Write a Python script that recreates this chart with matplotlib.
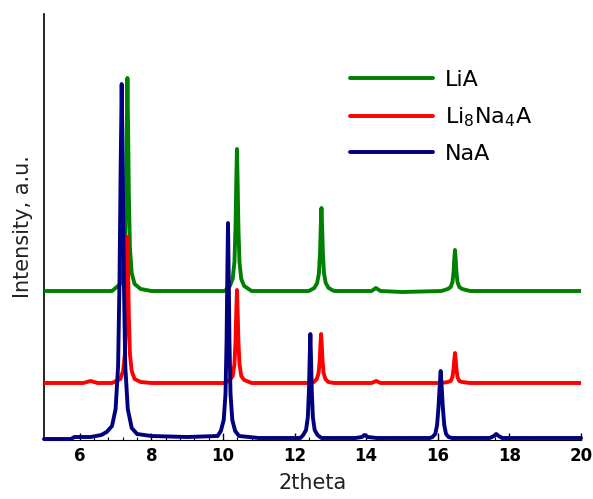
import matplotlib
matplotlib.use("Agg")
import matplotlib.pyplot as plt
from matplotlib.ticker import MultipleLocator, AutoMinorLocator

# XRD patterns (intensity in arbitrary units, stacked)
x_naa = [5.0, 5.75, 5.85, 6.3, 6.6, 6.75, 6.9, 7.0, 7.07, 7.11, 7.14, 7.17, 7.2,
         7.23, 7.27, 7.34, 7.45, 7.6, 8.0, 9.0, 9.85, 9.94, 10.02, 10.07, 10.1,
         10.12, 10.14, 10.16, 10.18, 10.21, 10.26, 10.34, 10.45, 11.0, 12.16,
         12.24, 12.32, 12.37, 12.4, 12.42, 12.44, 12.46, 12.48, 12.51, 12.56,
         12.64, 12.75, 13.7, 13.88, 13.95, 14.05, 14.3, 15.78, 15.85, 15.93, 15.98,
         16.02, 16.05, 16.08, 16.11, 16.14, 16.18, 16.23, 16.3, 16.4, 17.45, 17.57,
         17.63, 17.7, 17.8, 20.0]
y_naa = [1, 1, 3, 3, 5, 8, 14, 31, 74, 162, 268, 356, 268,
         162, 74, 31, 12, 6, 4, 3, 4, 9, 20, 46, 99,
         163, 217, 163, 99, 46, 20, 9, 4, 2, 2,
         5, 10, 23, 49, 80, 106, 80, 49, 23, 10,
         5, 2, 2, 3, 5, 3, 2, 2, 3, 6, 15,
         33, 52, 69, 52, 33, 15, 6, 3, 2, 2, 4,
         6, 4, 2, 2]

x_li8 = [5.0, 6.1, 6.3, 6.5, 6.9, 7.13, 7.21, 7.26, 7.29, 7.31, 7.33, 7.35, 7.37,
         7.4, 7.45, 7.53, 7.7, 8.0, 10.05, 10.19, 10.27, 10.32, 10.35, 10.37, 10.39,
         10.41, 10.43, 10.46, 10.51, 10.59, 10.8, 12.4, 12.54, 12.62, 12.67, 12.7,
         12.72, 12.74, 12.76, 12.78, 12.81, 12.86, 12.94, 13.1, 14.15, 14.28, 14.4,
         16.1, 16.28, 16.36, 16.41, 16.44, 16.46, 16.48, 16.5, 16.52, 16.55, 16.6,
         16.68, 16.9, 20.0]
y_li8 = [57, 57, 59, 57, 57, 61, 69, 86, 123, 167, 203, 167, 123,
         86, 69, 61, 58, 57, 57, 60, 64, 76, 99, 127, 150,
         127, 99, 76, 64, 60, 57, 57, 58, 61, 67, 79,
         94, 106, 94, 79, 67, 61, 58, 57, 57, 59, 57,
         57, 58, 59, 63, 71, 80, 87, 80, 71, 63, 59,
         58, 57, 57]

x_lia = [5.0, 6.9, 7.13, 7.21, 7.26, 7.29, 7.31, 7.33, 7.35, 7.37, 7.4, 7.45, 7.53,
         7.7, 8.0, 10.05, 10.19, 10.27, 10.32, 10.35, 10.37, 10.39, 10.41, 10.43,
         10.46, 10.51, 10.59, 10.8, 12.4, 12.55, 12.63, 12.68, 12.71, 12.73, 12.75,
         12.77, 12.79, 12.82, 12.87, 12.95, 13.1, 14.15, 14.27, 14.4, 15.0, 16.1,
         16.28, 16.36, 16.41, 16.44, 16.46, 16.48, 16.5, 16.52, 16.55, 16.6, 16.68,
         16.9, 20.0]
y_lia = [149, 149, 156, 167, 192, 245, 309, 362, 309, 245, 192, 167, 156,
         151, 149, 149, 154, 161, 178, 213, 256, 291, 256, 213,
         178, 161, 154, 149, 149, 152, 157, 167, 187, 212, 232,
         212, 187, 167, 157, 152, 149, 149, 152, 149, 148, 149,
         151, 153, 158, 168, 181, 190, 181, 168, 158, 153, 151,
         149, 149]

labels = ["LiA", "Li$_8$Na$_4$A", "NaA"]
colors = ["green", "red", "navy"]

fig = plt.figure(figsize=(5.93, 4.99), dpi=100)
ax = fig.add_axes([44 / 593, 59 / 499, 537 / 593, 426 / 499])

style = dict(lw=2.8, solid_joinstyle="round", solid_capstyle="round")
ax.plot(x_lia, y_lia, color=colors[0], label=labels[0], zorder=3, **style)
ax.plot(x_li8, y_li8, color=colors[1], label=labels[1], zorder=3, **style)
ax.plot(x_naa, y_naa, color=colors[2], label=labels[2], zorder=4, clip_on=False, **style)

ax.set_xlim(5, 20)
ax.set_ylim(0, 426)
ax.xaxis.set_major_locator(MultipleLocator(2))
ax.xaxis.set_minor_locator(AutoMinorLocator(5))
ax.tick_params(axis="x", which="major", direction="in", length=5, width=1,
               labelsize=12, pad=5)
ax.tick_params(axis="x", which="minor", direction="in", length=2.5, width=0.8)
for t in ax.get_xticklabels():
    t.set_fontweight("bold")
ax.set_yticks([])

ax.spines["top"].set_visible(False)
ax.spines["right"].set_visible(False)
ax.spines["left"].set_linewidth(1.2)

ax.set_xlabel("2theta", fontsize=15, color="#222222", labelpad=6)
ax.set_ylabel("Intensity, a.u.", fontsize=15, color="#222222", labelpad=8)

ax.legend(loc="upper left", bbox_to_anchor=(0.532, 0.915), frameon=False,
          fontsize=16, handlelength=3.75, labelspacing=0.68, handletextpad=0.55)

fig.savefig("out.png", dpi=100)
